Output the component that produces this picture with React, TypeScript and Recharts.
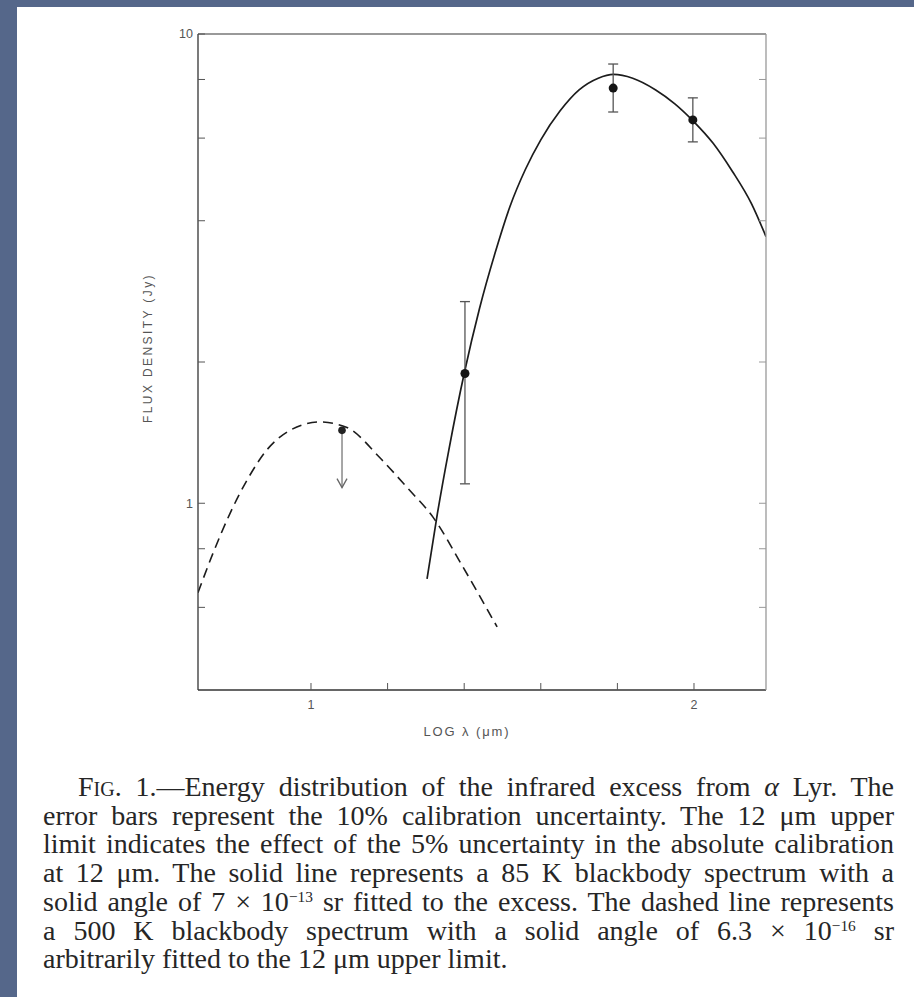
import React from 'react';
import { ComposedChart, Line, Scatter, XAxis, YAxis, ErrorBar } from 'recharts';

// axis ticks (log wavelength in µm, flux density in Jy)
const logLambdaTicks = [1, 1.2, 1.4, 1.6, 1.8, 2];
const logLambdaLabels = [1, 2];
const fluxTicks = [0.6, 0.8, 1, 2, 4, 6, 8, 10];
const fluxLabels = [1, 10];

// 85 K blackbody fitted to the excess (solid)
const warmLogLambda = [1.303, 1.33, 1.36, 1.4, 1.44, 1.48, 1.52, 1.56, 1.6, 1.65, 1.7, 1.75, 1.79, 1.84, 1.9, 1.95, 2.0, 2.05, 2.1, 2.15, 2.188];
const warmFlux = [0.69, 0.95, 1.3, 1.89, 2.6, 3.4, 4.3, 5.15, 5.95, 6.85, 7.6, 8.05, 8.2, 8.05, 7.6, 7.1, 6.5, 5.85, 5.1, 4.35, 3.7];

// 500 K blackbody through the 12 µm limit (dashed)
const hotLogLambda = [0.705, 0.744, 0.789, 0.833, 0.885, 0.945, 1.023, 1.094, 1.18, 1.251, 1.319, 1.397, 1.486];
const hotFlux = [0.645, 0.782, 0.953, 1.12, 1.3, 1.43, 1.49, 1.45, 1.25, 1.08, 0.933, 0.731, 0.545];

// 25, 60, 100 µm excess with calibration error bars
const bandLogLambda = [1.402, 1.789, 1.997];
const bandFlux = [1.89, 7.67, 6.56];
const bandLow = [1.1, 6.82, 5.89];
const bandHigh = [2.69, 8.63, 7.31];

// 12 µm upper limit
const limitLogLambda = [1.081];
const limitFlux = [1.43];
const limitFloor = [1.08];

const warmData = warmLogLambda.map((x, i) => ({ x, y: warmFlux[i] }));
const hotData = hotLogLambda.map((x, i) => ({ x, y: hotFlux[i] }));
const bandData = bandLogLambda.map((x, i) => ({
  x,
  y: bandFlux[i],
  err: [bandFlux[i] - bandLow[i], bandHigh[i] - bandFlux[i]],
}));
const limitData = limitLogLambda.map((x, i) => ({
  x,
  y: limitFlux[i],
  err: [limitFlux[i] - limitFloor[i], 0],
}));
const limitTipData = limitLogLambda.map((x, i) => ({ x, y: limitFloor[i] }));

const tickFont = { fontSize: 12.5, fill: '#555', fontFamily: 'Liberation Sans' };
const X_DOMAIN: [number, number] = [0.705, 2.188];
const Y_DOMAIN: [number, number] = [0.4, 10];

const Dot = (props: any) => <circle cx={props.cx} cy={props.cy} r={4.5} fill="#151515" />;
const SmallDot = (props: any) => <circle cx={props.cx} cy={props.cy} r={3.8} fill="#222" />;
const ArrowTip = (props: any) => (
  <path
    d={`M${props.cx - 5},${props.cy - 9} L${props.cx},${props.cy} L${props.cx + 5},${props.cy - 9}`}
    stroke="#666"
    strokeWidth={1.3}
    fill="none"
  />
);

const xTitle = (props: any) => {
  const vb = props.viewBox;
  return (
    <text x={vb.x + 269} y={vb.y + 46} textAnchor="middle" fontSize={13} letterSpacing={1.9} fill="#555" fontFamily="Liberation Sans">
      LOG λ   (μm)
    </text>
  );
};

const yTitle = (props: any) => {
  const vb = props.viewBox;
  const cx = vb.x + 14;
  const cy = vb.y + 314;
  return (
    <text x={cx} y={cy} transform={`rotate(-90 ${cx} ${cy})`} textAnchor="middle" fontSize={12} letterSpacing={2.4} fill="#555" fontFamily="Liberation Sans">
      FLUX DENSITY (Jy)
    </text>
  );
};

const Sup = ({ children }: { children: React.ReactNode }) => (
  <span style={{ fontSize: '0.55em', position: 'relative', top: '-0.55em', lineHeight: 0, verticalAlign: 'baseline' }}>{children}</span>
);

const lineStyle: React.CSSProperties = { textAlign: 'justify', textAlignLast: 'justify', whiteSpace: 'nowrap' };

export default function App() {
  return (
    <div style={{ position: 'absolute', left: 0, top: 0, width: 914, height: 997, background: '#55678a' }}>
      <div style={{ position: 'absolute', left: 17, top: 7, right: 0, bottom: 0, background: '#fff' }} />
      <div style={{ position: 'absolute', left: 0, top: 0 }}>
        <ComposedChart width={914} height={760} margin={{ top: 24, right: 138, bottom: 20, left: 138 }}>
          <XAxis
            dataKey="x"
            type="number"
            domain={X_DOMAIN}
            allowDataOverflow
            ticks={logLambdaTicks}
            tickFormatter={(v: number) => (logLambdaLabels.includes(v) ? String(v) : '')}
            tickSize={-7}
            tickMargin={17}
            tick={tickFont}
            tickLine={{ stroke: '#555' }}
            axisLine={{ stroke: '#333', strokeWidth: 1.3 }}
            height={50}
            label={xTitle}
          />
          <XAxis
            xAxisId="top"
            orientation="top"
            type="number"
            domain={X_DOMAIN}
            allowDataOverflow
            ticks={logLambdaTicks}
            tickFormatter={() => ''}
            tickSize={-7}
            tickLine={{ stroke: '#999' }}
            axisLine={{ stroke: '#777', strokeWidth: 1.3 }}
            height={10}
          />
          <YAxis
            type="number"
            scale="log"
            domain={Y_DOMAIN}
            allowDataOverflow
            ticks={fluxTicks}
            tickFormatter={(v: number) => (fluxLabels.includes(v) ? String(v) : '')}
            tickSize={-7}
            tickMargin={12}
            tick={tickFont}
            tickLine={{ stroke: '#555' }}
            axisLine={{ stroke: '#333', strokeWidth: 1.3 }}
            width={60}
            label={yTitle}
          />
          <YAxis
            yAxisId="right"
            orientation="right"
            type="number"
            scale="log"
            domain={Y_DOMAIN}
            allowDataOverflow
            ticks={fluxTicks}
            tickFormatter={() => ''}
            tickSize={-7}
            tickLine={{ stroke: '#999' }}
            axisLine={{ stroke: '#999', strokeWidth: 1.3 }}
            width={10}
          />
          <Line
            data={hotData}
            dataKey="y"
            type="monotone"
            dot={false}
            stroke="#1c1c1c"
            strokeWidth={1.6}
            strokeDasharray="10 6"
            isAnimationActive={false}
          />
          <Line
            data={warmData}
            dataKey="y"
            type="monotone"
            dot={false}
            stroke="#1c1c1c"
            strokeWidth={1.7}
            isAnimationActive={false}
          />
          <Scatter data={limitData} dataKey="y" shape={SmallDot} isAnimationActive={false}>
            <ErrorBar dataKey="err" direction="y" width={0} stroke="#777" strokeWidth={1.3} />
          </Scatter>
          <Scatter data={limitTipData} dataKey="y" shape={ArrowTip} isAnimationActive={false} />
          <Scatter data={bandData} dataKey="y" shape={Dot} isAnimationActive={false}>
            <ErrorBar dataKey="err" direction="y" width={5} stroke="#555" strokeWidth={1.3} />
          </Scatter>
        </ComposedChart>
      </div>
      <div
        style={{
          position: 'absolute',
          left: 43,
          top: 773,
          width: 851,
          fontFamily: 'Liberation Serif',
          fontSize: 28,
          lineHeight: '28.7px',
          color: '#262626',
        }}
      >
        <div style={{ ...lineStyle, paddingLeft: 35 }}>
          F<span style={{ fontVariant: 'small-caps' }}>ig</span>. 1.—Energy distribution of the infrared excess from <i>α</i> Lyr. The
        </div>
        <div style={lineStyle}>error bars represent the 10% calibration uncertainty. The 12 μm upper</div>
        <div style={lineStyle}>limit indicates the effect of the 5% uncertainty in the absolute calibration</div>
        <div style={lineStyle}>at 12 μm. The solid line represents a 85 K blackbody spectrum with a</div>
        <div style={lineStyle}>
          solid angle of 7 × 10<Sup>−13</Sup> sr fitted to the excess. The dashed line represents
        </div>
        <div style={lineStyle}>
          a 500 K blackbody spectrum with a solid angle of 6.3 × 10<Sup>−16</Sup> sr
        </div>
        <div>arbitrarily fitted to the 12 μm upper limit.</div>
      </div>
    </div>
  );
}
